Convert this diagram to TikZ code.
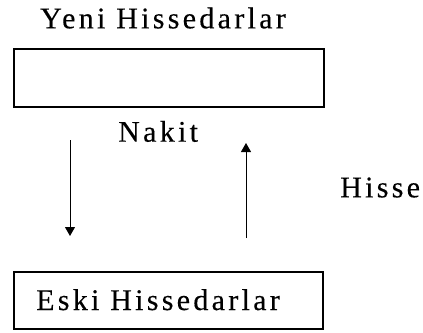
\documentclass[tikz,border=0pt]{standalone}
\usepackage{fontspec}
\setmainfont{Liberation Serif}
\newfontfamily\lsfont[LetterSpace=11,FakeBold=0.3]{Liberation Serif}
\usetikzlibrary{arrows.meta}
\begin{document}
\begin{tikzpicture}[x=1pt,y=-1pt,
  lbl/.style={inner sep=0pt,anchor=base west,font=\lsfont\fontsize{30}{34}\selectfont},
  box/.style={draw,line width=1.2pt,inner sep=0pt},
  flow/.style={line width=1pt,-{Triangle[length=9pt,width=10pt]}}]
\useasboundingbox (0,0) rectangle (423,332);
\node[lbl] (yeni) at (40,28.3) {Yeni Hissedarlar};
\node[box,minimum width=310pt,minimum height=58pt] (top) at (169,78) {};
\node[lbl] (nakit) at (118,141.7) {Nakit};
\node[lbl] (hisse) at (340,197.3) {Hisse};
\node[box,minimum width=309pt,minimum height=57pt] (bot) at (168.5,300.5) {};
\node[lbl] (eski) at (36,310) {Eski Hissedarlar};
\coordinate (d1) at (70,140);
\coordinate (d2) at (70,236);
\coordinate (u1) at (246,238);
\coordinate (u2) at (246,143);
\draw[flow] (d1) -- (d2);
\draw[flow] (u1) -- (u2);
\end{tikzpicture}
\end{document}
